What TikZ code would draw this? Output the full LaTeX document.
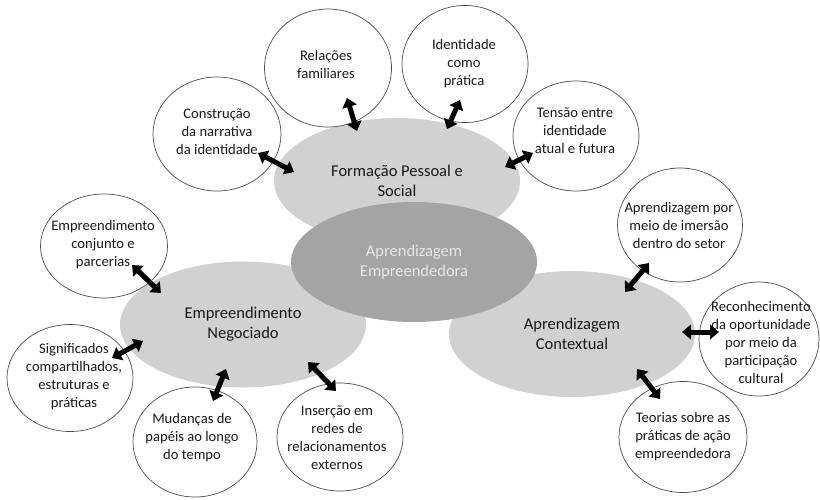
\documentclass[tikz,border=0pt]{standalone}
\usepackage{fontspec}
\setmainfont{Carlito}
\usetikzlibrary{arrows.meta,shapes.geometric,calc}

\definecolor{hubfill}{RGB}{209,209,209}
\definecolor{corefill}{RGB}{164,164,164}
\definecolor{coretext}{RGB}{230,230,230}
\definecolor{ink}{RGB}{25,25,25}
\definecolor{rim}{RGB}{75,75,75}

\begin{document}
\begin{tikzpicture}[x=1pt,y=-1pt,
  hub/.style={ellipse, fill=hubfill, inner sep=0pt, minimum width=246pt,
    minimum height=126pt, align=center, text=ink,
    font=\fontsize{16.5}{20}\selectfont},
  core/.style={hub, fill=corefill, text=coretext, minimum height=120pt},
  topic/.style={ellipse, draw=rim, line width=0.7pt, fill=white, inner sep=0pt},
  topictext/.style={align=center, inner sep=0pt, text=ink,
    font=\fontsize{14.6}{18}\selectfont},
  link/.style={line width=5pt, draw=black,
    {Triangle[length=9pt,width=14.5pt]}-{Triangle[length=9pt,width=14.5pt]}}
]
\useasboundingbox (0,0) rectangle (820,499);

% the three dimensions and the central concept
\node[hub] (formacao) at (397,181) {Formação Pessoal e\\Social};
\node[hub] (negociado) at (243,324.5) {Empreendimento\\Negociado};
\node[hub] (contextual) at (572,334) {Aprendizagem\\Contextual};
\node[core] (empreendedora) at (414,262) {Aprendizagem\\Empreendedora};

% topics around each dimension
\node[topic, minimum width=128pt, minimum height=114pt] (c1) at (217,134) {};
\node[topictext] (c1t) at (217,131.5) {Construção\\da narrativa\\da identidade};
\node[topic, minimum width=127pt, minimum height=118pt] (c2) at (328,68) {};
\node[topictext] (c2t) at (326,64) {Relações\\familiares};
\node[topic, minimum width=126pt, minimum height=117pt] (c3) at (465,64) {};
\node[topictext] (c3t) at (464,63.5) {Identidade\\como\\prática};
\node[topic, minimum width=126pt, minimum height=110pt] (c4) at (576,136) {};
\node[topictext] (c4t) at (575,131) {Tensão entre\\identidade\\atual e futura};

\node[topic, minimum width=127pt, minimum height=104pt] (c5) at (104,246) {};
\node[topictext] (c5t) at (103,245) {Empreendimento\\conjunto e\\parcerias};
\node[topic, minimum width=126pt, minimum height=107pt] (c6) at (70,378) {};
\node[topictext] (c6t) at (74,377) {Significados\\compartilhados,\\estruturas e\\práticas};
\node[topic, minimum width=124pt, minimum height=110pt] (c7) at (195,442) {};
\node[topictext] (c7t) at (192,438) {Mudanças de\\papéis ao longo\\do tempo};
\node[topic, minimum width=126pt, minimum height=108pt] (c8) at (340,437) {};
\node[topictext] (c8t) at (337,437.5) {Inserção em\\redes de\\relacionamentos\\externos};

\node[topic, minimum width=125pt, minimum height=114pt] (c9) at (680,225) {};
\node[topictext] (c9t) at (679,225) {Aprendizagem por\\meio de imersão\\dentro do setor};
\node[topic, minimum width=120pt, minimum height=114pt] (c10) at (759,339) {};
\node[topictext] (c10t) at (761,342) {Reconhecimento\\da oportunidade\\por meio da\\participação\\cultural};
\node[topic, minimum width=128pt, minimum height=111pt] (c11) at (683,437) {};
\node[topictext] (c11t) at (683,437) {Teorias sobre as\\práticas de ação\\empreendedora};

% two-way links between topics and dimensions
\draw[link] ($(c1)+(41,19)$) -- ($(formacao)+(-103,-9)$);
\draw[link] ($(c2)+(19,30)$) -- ($(formacao)+(-40,-50)$);
\draw[link] ($(c3)+(-5,36)$) -- ($(formacao)+(50,-52)$);
\draw[link] ($(c4)+(-43,17)$) -- ($(formacao)+(108,-14)$);

\draw[link] ($(c5)+(28,19)$) -- ($(negociado)+(-82,-31.5)$);
\draw[link] ($(c6)+(42,-20)$) -- ($(negociado)+(-100,16.5)$);
\draw[link] ($(c7)+(18,-41)$) -- ($(negociado)+(-17,44.5)$);
\draw[link] ($(c8)+(-4,-46)$) -- ($(negociado)+(65,37.5)$);

\draw[link] ($(c9)+(-31,38)$) -- ($(contextual)+(53,-42)$);
\draw[link] ($(c10)+(-40,-7)$) -- ($(contextual)+(110,-2)$);
\draw[link] ($(c11)+(-23,-38)$) -- ($(contextual)+(65,35)$);
\end{tikzpicture}
\end{document}
